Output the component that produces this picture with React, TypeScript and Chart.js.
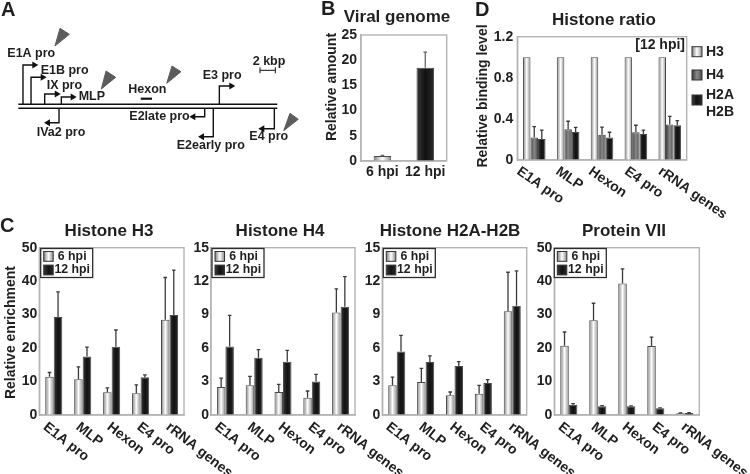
import React, { useEffect, useRef } from "react";
import { Chart, registerables } from "chart.js";

Chart.register(...registerables);

const FONT = '"Liberation Sans", Arial, sans-serif';
const INK = "#1f1f1f";

// ---------- data ----------
const sites = ["E1A pro", "MLP", "Hexon", "E4 pro", "rRNA genes"];
const times = ["6 hpi", "12 hpi"];

const h3Early = [11.4, 10.7, 6.8, 6.5, 28.5];
const h3EarlyTop = [12.7, 14.4, 8.1, 9.0, 41.1];
const h3Late = [29.3, 17.5, 20.4, 11.3, 29.9];
const h3LateTop = [36.8, 20.3, 25.4, 12.0, 43.3];

const h4Early = [2.5, 2.66, 2.06, 1.55, 9.2];
const h4EarlyTop = [3.3, 3.47, 2.75, 2.15, 11.3];
const h4Late = [6.15, 5.14, 4.78, 3.0, 9.7];
const h4LateTop = [8.93, 5.86, 5.8, 3.65, 12.4];

const h2Early = [2.66, 2.96, 1.76, 1.9, 9.3];
const h2EarlyTop = [3.4, 4.18, 2.06, 2.66, 12.8];
const h2Late = [5.7, 4.75, 4.4, 2.87, 9.8];
const h2LateTop = [7.14, 5.3, 4.78, 3.17, 12.93];

const p7Early = [20.7, 28.3, 39.3, 20.6, 0.5];
const p7EarlyTop = [24.8, 33.4, 43.7, 23.3, 0.6];
const p7Late = [3.1, 2.6, 2.6, 2.0, 0.6];
const p7LateTop = [3.4, 2.8, 2.7, 2.1, 0.7];

const genomeAmount = [1.0, 18.5];
const genomeAmountTop = [1.12, 21.6];

const ratioH3 = [1, 1, 1, 1, 1];
const ratioH4 = [0.22, 0.3, 0.245, 0.27, 0.345];
const ratioH4Top = [0.325, 0.377, 0.32, 0.338, 0.425];
const ratioH2 = [0.205, 0.273, 0.22, 0.253, 0.338];
const ratioH2Top = [0.29, 0.318, 0.27, 0.29, 0.383];

// Genome map: x in kbp, y as a level above (+) or below (-) the genome line
const genomeKb = [0, 33.77];
const promoterKb = [0.61, 1.66, 3.44, 5.61, 5.31, 26.21, 24.3, 25.42, 33.38];
const promoterEndKb = [2.09, 3.18, 5.01, 7.09, 3.87, 27.77, 22.82, 23.95, 31.81];
const promoterLevel = [41, 28.7, 12, 9, -16.7, 20, -10.7, -30.7, -22.7];
const hexonKb = [15.96, 17.43];
const scaleBarKb = [31.51, 33.51];
const wedgeKb = [
  [5.44, 6.65, 4.78],
  [11.44, 12.7, 10.82],
  [20.04, 21.21, 19.35],
  [35.42, 36.5, 34.6],
];
const wedgeLevel = [
  [77.7, 71.7, 60],
  [35, 28.7, 17],
  [40, 34.3, 22.7],
  [-7.3, -13.3, -24.7],
];
const mapLabels = ["E1A pro", "E1B pro", "IX pro", "MLP", "Hexon", "E3 pro", "2 kbp", "E2late pro", "IVa2 pro", "E2early pro", "E4 pro"];
const mapLabelKb = [-1.43, 2.92, 3.7, 7.87, 14.34, 24.04, 30.56, 14.47, 2.4, 20.65, 30.12];
const mapLabelLevel = [52, 35.3, 20.7, 9.3, 16.3, 30, 44.7, -11, -26.3, -39.7, -31];

// ---------- styles ----------
type Stops = [string, string, string];
const LIGHT: Stops = ["#7d7d7d", "#ffffff", "#8c8c8c"];
const MID: Stops = ["#3c3c3c", "#8a8a8a", "#4a4a4a"];
const DARK: Stops = ["#3a3a3a", "#111111", "#2a2a2a"];

function setText(ctx: any, font: string, align = "left", baseline = "middle") {
  ctx.font = font;
  ctx.textAlign = align;
  ctx.textBaseline = baseline;
  ctx.fillStyle = INK;
}

function barGradient(ctx: any, x0: number, x1: number, s: Stops) {
  const g = ctx.createLinearGradient(x0, 0, x1, 0);
  g.addColorStop(0, s[0]);
  g.addColorStop(0.5, s[1]);
  g.addColorStop(1, s[2]);
  return g;
}

type Series = { label: string; values: number[]; tops?: number[]; stops: Stops; barStops?: Stops[] };
type BarCfg = {
  plot: [number, number, number, number];
  labels: string[];
  series: Series[];
  yMax: number;
  step: number;
  tickFormat?: (v: number) => string;
  tickPad: number;
  catPct: number;
  title: string;
  titleCx: number;
  titleCy: number;
  yTitle?: { x: number; cy: number; text: string };
  xOffsets?: number[];
  xDrop: number;
  rotation: number;
  boxLegendX?: number;
  sideLegend?: boolean;
  note?: string;
  whisker?: string;
};

function barChart(canvas: HTMLCanvasElement, c: BarCfg) {
  const [L, T, R, B] = c.plot;
  const W = 30;
  const plugin = {
    id: "panel",
    beforeDatasetsDraw(chart: any) {
      const ctx = chart.ctx;
      chart.data.datasets.forEach((_: any, i: number) => {
        chart.getDatasetMeta(i).data.forEach((el: any, k: number) => {
          const s = c.series[i];
          el.options.backgroundColor = barGradient(ctx, el.x - el.width / 2, el.x + el.width / 2, s.barStops ? s.barStops[k] : s.stops);
        });
      });
    },
    afterDatasetsDraw(chart: any) {
      const ctx = chart.ctx;
      const y = chart.scales.y;
      const x = chart.scales.x;
      ctx.save();
      // plot frame
      ctx.strokeStyle = "#b4b4b4";
      ctx.lineWidth = 1.4;
      ctx.strokeRect(L, T, R - L, B - T);
      // error whiskers
      ctx.strokeStyle = c.whisker || "#3a3a3a";
      ctx.lineWidth = 1.3;
      c.series.forEach((s, i) => {
        if (!s.tops) return;
        chart.getDatasetMeta(i).data.forEach((el: any, k: number) => {
          const top = y.getPixelForValue(s.tops![k]);
          const base = y.getPixelForValue(s.values[k]);
          ctx.beginPath();
          ctx.moveTo(el.x, base);
          ctx.lineTo(el.x, top);
          ctx.moveTo(el.x - 1.8, top);
          ctx.lineTo(el.x + 1.8, top);
          ctx.stroke();
        });
      });
      // category labels
      c.labels.forEach((lab, i) => {
        const px = x.getPixelForTick(i) + (c.xOffsets ? c.xOffsets[i] : 0);
        ctx.save();
        ctx.translate(px, B + c.xDrop);
        if (c.rotation) {
          ctx.rotate((c.rotation * Math.PI) / 180);
          setText(ctx, `bold 14px ${FONT}`, "left");
        } else {
          setText(ctx, `bold 14px ${FONT}`, "center");
        }
        ctx.fillText(lab, 0, 0);
        ctx.restore();
      });
      // title
      setText(ctx, `bold 17px ${FONT}`, "center");
      ctx.fillText(c.title, c.titleCx, c.titleCy);
      // y axis title
      if (c.yTitle) {
        ctx.save();
        ctx.translate(c.yTitle.x, c.yTitle.cy);
        ctx.rotate(-Math.PI / 2);
        setText(ctx, `bold 14px ${FONT}`, "center");
        ctx.fillText(c.yTitle.text, 0, 0);
        ctx.restore();
      }
      // boxed legend
      if (c.boxLegendX !== undefined) {
        const bx = c.boxLegendX;
        const by = T + 0.8;
        ctx.fillStyle = "#fff";
        ctx.fillRect(bx, by, 52, 29);
        ctx.strokeStyle = "#2c2c2c";
        ctx.lineWidth = 1.3;
        ctx.strokeRect(bx, by, 52, 29);
        c.series.forEach((s, i) => {
          const sy = by + 3 + i * 13.6;
          ctx.fillStyle = barGradient(ctx, bx + 3, bx + 12.5, s.stops);
          ctx.fillRect(bx + 3, sy, 9.5, 9.8);
          ctx.strokeStyle = "#333";
          ctx.lineWidth = 1;
          ctx.strokeRect(bx + 3, sy, 9.5, 9.8);
          setText(ctx, `bold 12.3px ${FONT}`, "center");
          ctx.fillText(s.label, bx + 31.5, sy + 5);
        });
      }
      // side legend
      if (c.sideLegend) {
        const rows = [51.7, 75, 100];
        c.series.forEach((s, i) => {
          const sy = rows[i] - 5;
          const bx = 692;
          ctx.fillStyle = barGradient(ctx, bx, bx + 10, s.stops);
          ctx.fillRect(bx, sy, 10, 10);
          ctx.strokeStyle = "#333";
          ctx.lineWidth = 1;
          ctx.strokeRect(bx, sy, 10, 10);
          setText(ctx, `bold 14px ${FONT}`, "left");
          if (s.label.includes(" ")) {
            const [a, b] = s.label.split(" ");
            ctx.fillText(a, 706, 95);
            ctx.fillText(b, 706, 111.7);
          } else {
            ctx.fillText(s.label, 706, rows[i]);
          }
        });
      }
      if (c.note) {
        setText(ctx, `bold 14px ${FONT}`, "right");
        ctx.fillText(c.note, 685, 45);
      }
      ctx.restore();
    },
  };
  return new Chart(canvas, {
    type: "bar",
    data: {
      labels: c.labels,
      datasets: c.series.map((s) => ({
        label: s.label,
        data: s.values,
        backgroundColor: () => "#888",
        borderColor: "#4a4a4a",
        borderWidth: 1,
        barPercentage: 1,
        categoryPercentage: c.catPct,
      })),
    },
    options: {
      animation: false,
      responsive: false,
      devicePixelRatio: 1,
      layout: {
        autoPadding: false,
        padding: { left: L - W, top: T, right: 750 - R, bottom: 474 - B },
      },
      plugins: { legend: { display: false }, title: { display: false }, tooltip: { enabled: false } },
      scales: {
        x: {
          grid: { display: false, drawTicks: false },
          border: { color: "#b4b4b4", width: 1.4 },
          ticks: { display: false },
          afterFit: (s: any) => { s.height = 0; },
        },
        y: {
          min: 0,
          max: c.yMax,
          grid: { display: false, drawTicks: false },
          border: { color: "#b4b4b4", width: 1.4 },
          afterFit: (s: any) => { s.width = W; },
          ticks: {
            stepSize: c.step,
            padding: c.tickPad,
            color: INK,
            font: { family: FONT, size: 14, weight: "bold" },
            callback: (v: any) => (c.tickFormat ? c.tickFormat(Number(v)) : String(v)),
          },
        },
      },
    } as any,
    plugins: [plugin],
  } as any);
}

function mapChart(canvas: HTMLCanvasElement) {
  const lineSet = (data: any[], extra: any = {}) => ({
    data,
    showLine: true,
    borderColor: "#111",
    borderWidth: 1.4,
    pointRadius: 0,
    tension: 0,
    clip: false,
    ...extra,
  });
  const datasets: any[] = [
    lineSet(genomeKb.map((x) => ({ x, y: 1.7 }))),
    lineSet(genomeKb.map((x) => ({ x, y: -2.3 }))),
    lineSet(hexonKb.map((x) => ({ x, y: 7.3 })), { borderWidth: 2.2 }),
    lineSet(scaleBarKb.map((x) => ({ x, y: 35.7 })), { borderWidth: 1 }),
    lineSet([{ x: scaleBarKb[0], y: 32.7 }, { x: scaleBarKb[0], y: 38.7 }], { borderWidth: 1 }),
    lineSet([{ x: scaleBarKb[1], y: 32.7 }, { x: scaleBarKb[1], y: 38.7 }], { borderWidth: 1 }),
  ];
  promoterKb.forEach((kb, i) => {
    const lvl = promoterLevel[i];
    const end = promoterEndKb[i];
    const right = end > kb;
    datasets.push(
      lineSet(
        [
          { x: kb, y: lvl > 0 ? 1.7 : -2.3 },
          { x: kb, y: lvl },
          { x: end, y: lvl },
        ],
        {
          pointRadius: [0, 0, 4],
          pointStyle: "triangle",
          pointRotation: right ? 90 : -90,
          pointBackgroundColor: "#111",
          pointBorderWidth: 0,
        }
      )
    );
  });
  wedgeKb.forEach((kbs, i) => {
    const pts = kbs.map((x, k) => ({ x, y: wedgeLevel[i][k] }));
    datasets.push(
      lineSet([...pts, pts[0]], {
        fill: "shape",
        backgroundColor: "#5c5c5c",
        borderColor: "#5c5c5c",
        borderWidth: 1,
      })
    );
  });
  const plugin = {
    id: "mapText",
    afterDatasetsDraw(chart: any) {
      const ctx = chart.ctx;
      const { x, y } = chart.scales;
      ctx.save();
      setText(ctx, `bold 12.5px ${FONT}`);
      mapLabels.forEach((t, i) => {
        ctx.fillText(t, x.getPixelForValue(mapLabelKb[i]), y.getPixelForValue(mapLabelLevel[i]));
      });
      setText(ctx, `bold 20px ${FONT}`);
      ctx.fillText("A", 1, 10);
      ctx.fillText("B", 321, 9);
      ctx.fillText("C", 0, 226);
      ctx.fillText("D", 475, 10);
      ctx.restore();
    },
  };
  return new Chart(canvas, {
    type: "scatter",
    data: { datasets },
    options: {
      animation: false,
      responsive: false,
      devicePixelRatio: 1,
      layout: { autoPadding: false, padding: { left: 0, top: 0, right: 440, bottom: 284 } },
      plugins: { legend: { display: false }, tooltip: { enabled: false } },
      scales: {
        x: { type: "linear", display: false, min: -2.386, max: 38.03 },
        y: { type: "linear", display: false, min: -84, max: 106 },
      },
    } as any,
    plugins: [plugin],
  } as any);
}

const cOffsets = [-9, -5, -3, -2, -2];
const hpi = (early: number[], earlyTop: number[], late: number[], lateTop: number[]): Series[] => [
  { label: times[0], values: early, tops: earlyTop, stops: LIGHT },
  { label: times[1], values: late, tops: lateTop, stops: DARK },
];
const cBase = { labels: sites, catPct: 0.59, xOffsets: cOffsets, xDrop: 10.5, rotation: 38, titleCy: 231, tickPad: 2 };

const panels: BarCfg[] = [
  {
    ...cBase,
    plot: [39.3, 247.7, 184, 415],
    series: hpi(h3Early, h3EarlyTop, h3Late, h3LateTop),
    yMax: 50, step: 10, title: "Histone H3", titleCx: 109, boxLegendX: 40.7,
    yTitle: { x: 11, cy: 332.5, text: "Relative enrichment" },
  },
  {
    ...cBase,
    plot: [211, 247.7, 355, 415],
    series: hpi(h4Early, h4EarlyTop, h4Late, h4LateTop),
    yMax: 15, step: 3, title: "Histone H4", titleCx: 280, boxLegendX: 212,
  },
  {
    ...cBase,
    plot: [382.3, 247.7, 526.7, 415],
    series: hpi(h2Early, h2EarlyTop, h2Late, h2LateTop),
    yMax: 15, step: 3, title: "Histone H2A-H2B", titleCx: 450, boxLegendX: 383.3,
  },
  {
    ...cBase,
    plot: [554.3, 247.7, 699.3, 415],
    series: hpi(p7Early, p7EarlyTop, p7Late, p7LateTop),
    yMax: 50, step: 10, title: "Protein VII", titleCx: 624, boxLegendX: 554.3,
  },
  {
    plot: [361, 35, 446.7, 161],
    labels: times,
    series: [{ label: "Viral genome", values: genomeAmount, tops: genomeAmountTop, stops: LIGHT, barStops: [LIGHT, DARK] }],
    yMax: 25, step: 5, tickPad: 4, catPct: 0.41,
    title: "Viral genome", titleCx: 397, titleCy: 17.3,
    yTitle: { x: 332, cy: 87, text: "Relative amount" },
    xDrop: 11, rotation: 0, whisker: "#666",
  },
  {
    plot: [517.3, 36.7, 686.7, 160],
    labels: sites,
    series: [
      { label: "H3", values: ratioH3, stops: LIGHT },
      { label: "H4", values: ratioH4, tops: ratioH4Top, stops: MID },
      { label: "H2A H2B", values: ratioH2, tops: ratioH2Top, stops: DARK },
    ],
    yMax: 1.2, step: 0.4, tickPad: 4, catPct: 0.667,
    tickFormat: (v) => (v === 0 ? "0" : v.toFixed(1)),
    title: "Histone ratio", titleCx: 604, titleCy: 20,
    yTitle: { x: 483, cy: 96, text: "Relative binding level" },
    xOffsets: [-16, -11, -12, -10, -10], xDrop: 10, rotation: 35,
    sideLegend: true, note: "[12 hpi]",
  },
];

const canvasStyle: React.CSSProperties = { position: "absolute", left: 0, top: 0, width: 750, height: 474 };

function Panel({ make }: { make: (c: HTMLCanvasElement) => Chart }) {
  const ref = useRef<HTMLCanvasElement>(null);
  useEffect(() => {
    const chart = make(ref.current!);
    return () => chart.destroy();
  }, []);
  return <canvas ref={ref} width={750} height={474} style={canvasStyle} />;
}

export default function App() {
  return (
    <div style={{ position: "absolute", left: 0, top: 0, width: 750, height: 474, background: "#fff", overflow: "hidden", filter: "blur(0.35px)" }}>
      <Panel make={mapChart} />
      {panels.map((p, i) => (
        <Panel key={i} make={(c) => barChart(c, p)} />
      ))}
    </div>
  );
}
